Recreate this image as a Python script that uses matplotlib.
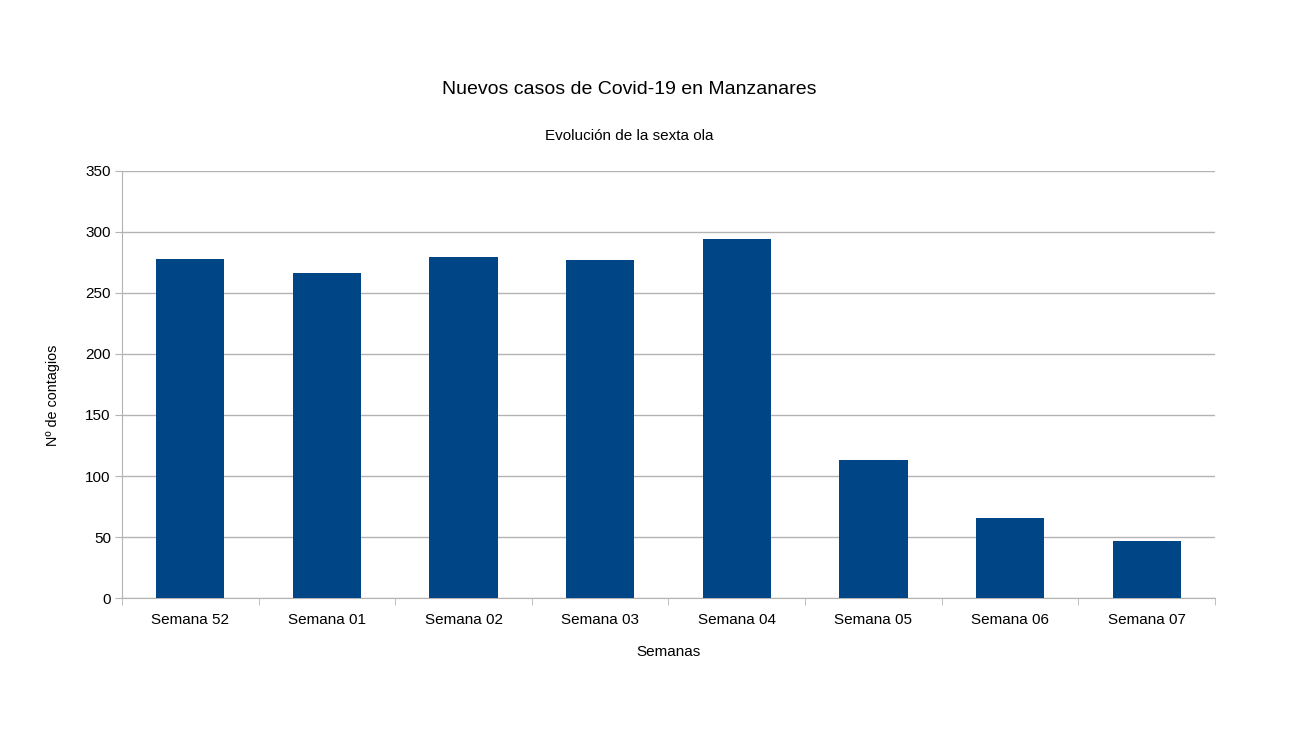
import numpy as np
import matplotlib.pyplot as plt

semanas = ['Semana 52', 'Semana 01', 'Semana 02', 'Semana 03',
           'Semana 04', 'Semana 05', 'Semana 06', 'Semana 07']
casos = [278, 266, 279, 277, 294, 113, 66, 47]
yticks = [0, 50, 100, 150, 200, 250, 300, 350]

plt.rcParams['font.family'] = ['Liberation Sans', 'DejaVu Sans']

fig = plt.figure(figsize=(13.06, 7.33), dpi=100)
ax = fig.add_axes([0.0934, 0.184, 0.8369, 0.583])

x = np.arange(len(semanas))
ax.bar(x, casos, width=0.5, color='#004586', zorder=3)

ax.set_xlim(-0.5, len(semanas) - 0.5)
ax.set_ylim(0, 350)
ax.set_yticks(yticks)
ax.set_xticks(x)
ax.set_xticklabels(semanas, fontsize=11)
ax.tick_params(axis='y', labelsize=11, length=5, color='#b3b3b3', pad=3)
ax.tick_params(axis='x', length=0, pad=11)
# tick marks between categories
ax.set_xticks(np.arange(-0.5, len(semanas)), minor=True)
ax.tick_params(axis='x', which='minor', length=5, color='#b3b3b3')

ax.grid(axis='y', color='#b3b3b3', linewidth=1, zorder=0)
for s in ['top', 'right']:
    ax.spines[s].set_visible(False)
for s in ['left', 'bottom']:
    ax.spines[s].set_color('#b3b3b3')

ax.set_xlabel('Semanas', fontsize=11, labelpad=13)
ax.set_ylabel('Nº de contagios', fontsize=10.4, va='center')
ax.yaxis.set_label_coords(-0.063, 0.475)

fig.text(0.4815, 1 - 90 / 733, 'Nuevos casos de Covid-19 en Manzanares',
         ha='center', va='center', fontsize=14)
fig.text(0.4815, 1 - 136 / 733, 'Evolución de la sexta ola',
         ha='center', va='center', fontsize=11)

plt.savefig('out.png', dpi=100)
